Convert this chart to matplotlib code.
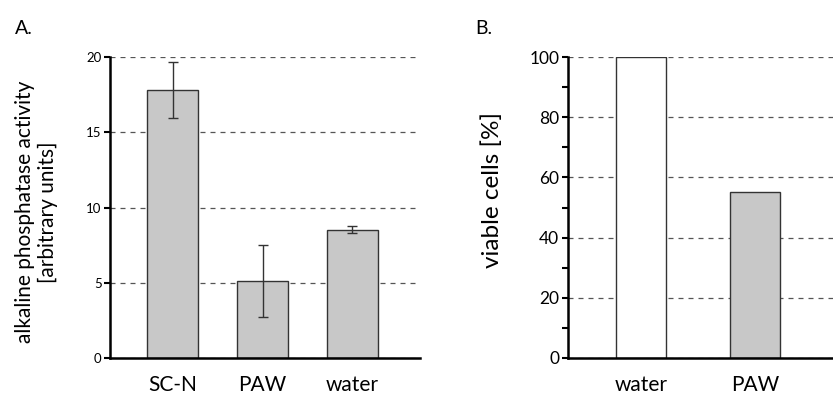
import matplotlib
matplotlib.use("Agg")
import matplotlib.pyplot as plt
import numpy as np

plt.rcParams['font.family'] = ['Lato', 'DejaVu Sans']

# --- panel A data: alkaline phosphatase activity ---
a_labels = ['SC-N', 'PAW', 'water']
a_values = [17.8, 5.1, 8.53]
a_errors = [1.85, 2.4, 0.25]
a_ticks = [0, 5, 10, 15, 20]

# --- panel B data: viable cells ---
b_labels = ['water', 'PAW']
b_values = [100, 55]
b_colors = ['white', '#c8c8c8']
b_ticks = [0, 20, 40, 60, 80, 100]

fig = plt.figure(figsize=(8.33, 3.96), dpi=100)
axA = fig.add_axes([0.132, 0.096, 0.372, 0.760])
axB = fig.add_axes([0.6815, 0.096, 0.3185, 0.760])


def style_axes(ax):
    for s in ['top', 'right']:
        ax.spines[s].set_visible(False)
    for s in ['left', 'bottom']:
        ax.spines[s].set_linewidth(1.8)
        ax.spines[s].set_color('black')
    ax.yaxis.grid(True, linestyle=(0, (4, 4)), color='#555555', linewidth=0.9)
    ax.set_axisbelow(True)
    ax.tick_params(axis='x', length=0, pad=12)
    ax.tick_params(axis='y', direction='out', length=4, width=1.5, pad=2)


# --- A ---
xa = np.arange(len(a_labels))
axA.bar(xa, a_values, width=0.567, color='#c8c8c8', edgecolor='#333333',
        linewidth=1.0, zorder=2)
axA.errorbar(xa, a_values, yerr=a_errors, fmt='none', ecolor='#333333',
             elinewidth=1.0, capsize=3.5, capthick=1.0, zorder=3)
axA.set_xlim(-0.7, 2.75)
axA.set_ylim(0, 20)
axA.set_yticks(a_ticks)
axA.set_xticks(xa)
axA.set_xticklabels(a_labels, fontsize=15)
axA.tick_params(axis='y', labelsize=9.5)
style_axes(axA)
axA.set_ylabel('alkaline phosphatase activity\n[arbitrary units]',
               fontsize=15, linespacing=1.15)
axA.yaxis.set_label_coords(-0.168, 0.485)
fig.text(0.018, 0.915, 'A.', fontsize=14)

# --- B ---
xb = np.arange(len(b_labels))
axB.bar(xb, b_values, width=0.447, color=b_colors, edgecolor='#333333',
        linewidth=1.0, zorder=2)
axB.set_xlim(-0.643, 1.684)
axB.set_ylim(0, 100)
axB.set_yticks(b_ticks)
axB.set_yticks(np.arange(10, 100, 20), minor=True)
axB.tick_params(axis='y', which='minor', direction='out', length=4, width=1.5)
axB.set_xticks(xb)
axB.set_xticklabels(b_labels, fontsize=15)
axB.tick_params(axis='y', labelsize=12.5)
style_axes(axB)
axB.set_ylabel('viable cells [%]', fontsize=17.5)
axB.yaxis.set_label_coords(-0.244, 0.558)
fig.text(0.571, 0.915, 'B.', fontsize=14)

fig.savefig('out.png', dpi=100)
